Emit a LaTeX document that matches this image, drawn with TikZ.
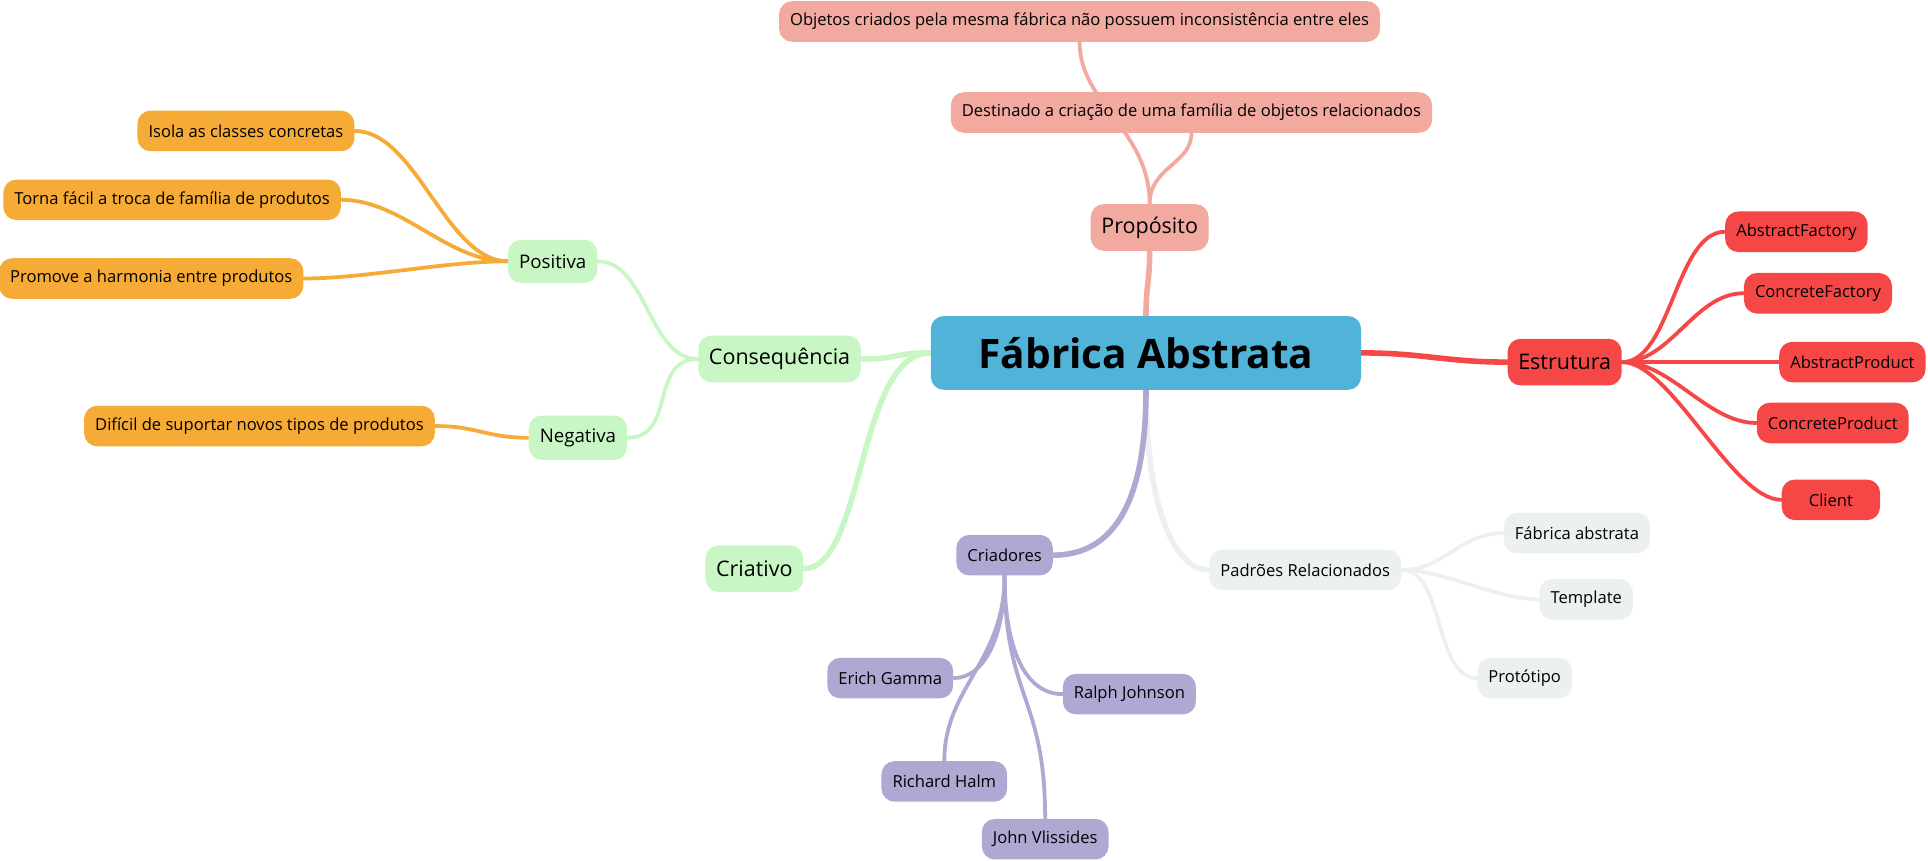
\documentclass[tikz,border=0pt]{standalone}
\usepackage{fontspec}
\setmainfont{Open Sans}
\usetikzlibrary{backgrounds}
\definecolor{cblue}{HTML}{52B3D9}
\definecolor{csalmon}{HTML}{F1A9A0}
\definecolor{cred}{HTML}{F64747}
\definecolor{cgreen}{HTML}{C8F7C5}
\definecolor{corange}{HTML}{F5AB35}
\definecolor{cviolet}{HTML}{AEA8D3}
\definecolor{cgray}{HTML}{ECF0F1}
\begin{document}
\begin{tikzpicture}[x=0.75pt,y=-0.75pt,
    leaf/.style = {rounded corners=8pt, inner xsep=6.75pt, minimum height=24.75pt, text=black, font=\fontsize{10.1}{12}\selectfont},
    topic/.style = {leaf, rounded corners=8pt, inner xsep=6.5pt, minimum height=28.5pt, font=\fontsize{13.1}{15}\selectfont},
    root/.style = {rounded corners=8pt, fill=cblue, minimum width=262.5pt, minimum height=45pt, font=\fontsize{24.75}{28}\selectfont\bfseries},
    trunk/.style = {line width=3.4pt, line cap=round},
    twig/.style = {line width=2.3pt, line cap=round}]
\useasboundingbox (0,0) rectangle (1568,700);
% centre
\node[root] (cen) at (932,287) {Fábrica Abstrata};
% proposito
\node[topic, fill=csalmon] (prop) at (935,185) {Propósito};
\node[leaf, fill=csalmon] (dest) at (969,91.5) {Destinado a criação de uma família de objetos relacionados};
\node[leaf, fill=csalmon] (obj) at (878,17.5) {Objetos criados pela mesma fábrica não possuem inconsistência entre eles};
% estrutura
\node[topic, fill=cred] (estr) at (1272.5,294.5) {Estrutura};
\node[leaf, fill=cred] (af) at (1461,188.5) {AbstractFactory};
\node[leaf, fill=cred] (cf) at (1478.5,238.5) {ConcreteFactory};
\node[leaf, fill=cred] (ap) at (1506.5,294.5) {AbstractProduct};
\node[leaf, fill=cred] (cp) at (1490.5,344) {ConcreteProduct};
\node[leaf, fill=cred, minimum width=60pt] (cli) at (1489,406.5) {Client};
% padroes
\node[leaf, fill=cgray] (padr) at (1061.5,463.5) {Padrões Relacionados};
\node[leaf, fill=cgray] (fa) at (1282.5,433.5) {Fábrica abstrata};
\node[leaf, fill=cgray] (tpl) at (1290,487.5) {Template};
\node[leaf, fill=cgray] (proto) at (1240,551.5) {Protótipo};
% criadores
\node[leaf, fill=cviolet] (criad) at (817,451.5) {Criadores};
\node[leaf, fill=cviolet] (erich) at (724,551.5) {Erich Gamma};
\node[leaf, fill=cviolet] (ralph) at (918.5,564.5) {Ralph Johnson};
\node[leaf, fill=cviolet] (rich) at (768,635.5) {Richard Halm};
\node[leaf, fill=cviolet] (john) at (850,682.5) {John Vlissides};
% consequencia
\node[topic, fill=cgreen] (cons) at (634,292) {Consequência};
\node[leaf, fill=cgreen, font=\fontsize{11.4}{13}\selectfont, minimum height=26.25pt] (pos) at (449.5,212.5) {Positiva};
\node[leaf, fill=cgreen, font=\fontsize{11.4}{13}\selectfont, minimum height=27pt] (neg) at (470,356) {Negativa};
\node[topic, fill=cgreen] (criat) at (613.5,462.5) {Criativo};
\node[leaf, fill=corange] (isola) at (200,106.5) {Isola as classes concretas};
\node[leaf, fill=corange] (torna) at (140,162.5) {Torna fácil a troca de família de produtos};
\node[leaf, fill=corange] (prom) at (123,226.5) {Promove a harmonia entre produtos};
\node[leaf, fill=corange] (dific) at (211,346.5) {Difícil de suportar novos tipos de produtos};

\begin{pgfonlayer}{background}
\draw[trunk, csalmon] (cen.north) .. controls +(0,-25) and +(0,25) .. (prop.south);
\draw[twig, csalmon] (prop.north) .. controls +(0,-30) and +(0,25) .. (dest.south);
\draw[twig, csalmon] (prop.north) .. controls +(0,-60) and +(0,50) .. (obj.south);
\draw[trunk, cred] (cen.east) .. controls +(50,0) and +(-50,0) .. (estr.west);
\foreach \k in {af,cf,ap,cp,cli}
  \draw[twig, cred] (estr.east) .. controls +(40,0) and +(-40,0) .. (\k.west);
\draw[trunk, cgray] (cen.south) .. controls +(0,90) and +(-30,0) .. (padr.west);
\foreach \k in {fa,tpl,proto}
  \draw[twig, cgray] (padr.east) .. controls +(35,0) and +(-35,0) .. (\k.west);
\draw[trunk, cviolet] (cen.south) .. controls +(0,90) and +(50,0) .. (criad.east);
\draw[twig, cviolet] (criad.south) .. controls +(0,50) and +(25,0) .. (erich.east);
\draw[twig, cviolet] (criad.south) .. controls +(0,60) and +(-30,0) .. (ralph.west);
\draw[twig, cviolet] (criad.south) .. controls +(0,70) and +(0,-60) .. (rich.north);
\draw[twig, cviolet] (criad.south) .. controls +(0,100) and +(0,-100) .. (john.north);
\draw[trunk, cgreen] (cen.west) .. controls +(-30,0) and +(30,0) .. (cons.east);
\draw[trunk, cgreen] (cen.west) .. controls +(-60,0) and +(50,0) .. (criat.east);
\draw[twig, cgreen] (cons.west) .. controls +(-40,0) and +(40,0) .. (pos.east);
\draw[twig, cgreen] (cons.west) .. controls +(-40,0) and +(40,0) .. (neg.east);
\foreach \k in {isola,torna,prom}
  \draw[twig, corange] (pos.west) .. controls +(-50,0) and +(50,0) .. (\k.east);
\draw[twig, corange] (neg.west) .. controls +(-35,0) and +(35,0) .. (dific.east);
\end{pgfonlayer}
\end{tikzpicture}
\end{document}
